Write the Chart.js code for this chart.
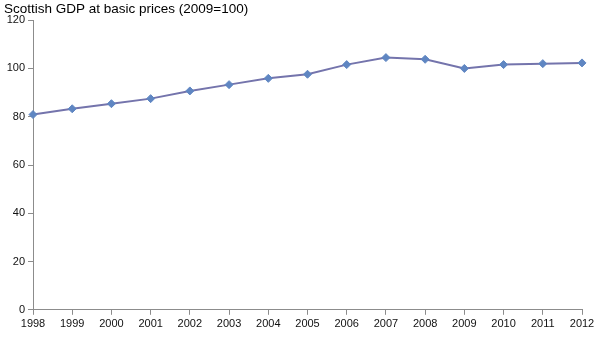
<!DOCTYPE html>
<html lang="en">
<head>
    <meta charset="UTF-8">
    <title>Scottish GDP at basic prices</title>
    <script src="https://cdn.jsdelivr.net/npm/chart.js"></script>
    <style>
        html, body { margin: 0; padding: 0; background: #fff; }
        #wrap { width: 600px; height: 337px; }
    </style>
</head>
<body>
    <div id="wrap"><canvas id="gdpChart"></canvas></div>

    <script>
        // index values, 2009 = 100
        let years = ["1998", "1999", "2000", "2001", "2002", "2003", "2004", "2005",
                     "2006", "2007", "2008", "2009", "2010", "2011", "2012"];
        let gdpIndex = [80.9, 83.3, 85.4, 87.5, 90.7, 93.3, 95.9, 97.6,
                        101.6, 104.5, 103.8, 100.0, 101.6, 102.0, 102.3];
        let yTicks = [0, 20, 40, 60, 80, 100, 120];

        let axisColor = "#8c8c8c";
        let font = { family: "Liberation Sans, Arial, sans-serif", size: 11 };

        let ctx = document.getElementById("gdpChart").getContext("2d");

        let chart = new Chart(ctx, {
            type: "line",
            data: {
                labels: years,
                datasets: [{
                    label: "Scottish GDP",
                    data: gdpIndex,
                    borderColor: "#7474ac",
                    borderWidth: 2,
                    pointStyle: "rectRot",
                    pointRadius: 4,
                    pointBackgroundColor: "#5f86c2",
                    pointBorderColor: "#5f86c2",
                    pointBorderWidth: 1,
                    tension: 0,
                    fill: false
                }]
            },
            options: {
                responsive: true,
                maintainAspectRatio: false,
                animation: false,
                layout: {
                    padding: { left: 4, right: 18, top: 0, bottom: 3 }
                },
                plugins: {
                    legend: { display: false },
                    tooltip: { enabled: false },
                    title: {
                        display: true,
                        text: "Scottish GDP at basic prices (2009=100)",
                        align: "start",
                        color: "#000",
                        font: { family: "Liberation Sans, Arial, sans-serif", size: 13.5, weight: "normal" },
                        padding: { top: 1, bottom: 3 }
                    }
                },
                scales: {
                    x: {
                        type: "category",
                        offset: false,
                        grid: {
                            display: true,
                            drawOnChartArea: false,
                            drawTicks: true,
                            tickLength: 5,
                            color: axisColor
                        },
                        border: { color: axisColor, width: 1 },
                        ticks: {
                            color: "#111",
                            font: font,
                            maxRotation: 0,
                            autoSkip: false,
                            padding: 3
                        }
                    },
                    y: {
                        min: 0,
                        max: 120,
                        afterBuildTicks: function (scale) {
                            scale.ticks = yTicks.map(function (v) { return { value: v }; });
                        },
                        afterFit: function (scale) {
                            scale.width = 29;
                        },
                        grid: {
                            display: true,
                            drawOnChartArea: false,
                            drawTicks: true,
                            tickLength: 5,
                            color: axisColor
                        },
                        border: { color: axisColor, width: 1 },
                        ticks: {
                            color: "#111",
                            font: font,
                            padding: 3
                        }
                    }
                }
            }
        });
    </script>
</body>
</html>
